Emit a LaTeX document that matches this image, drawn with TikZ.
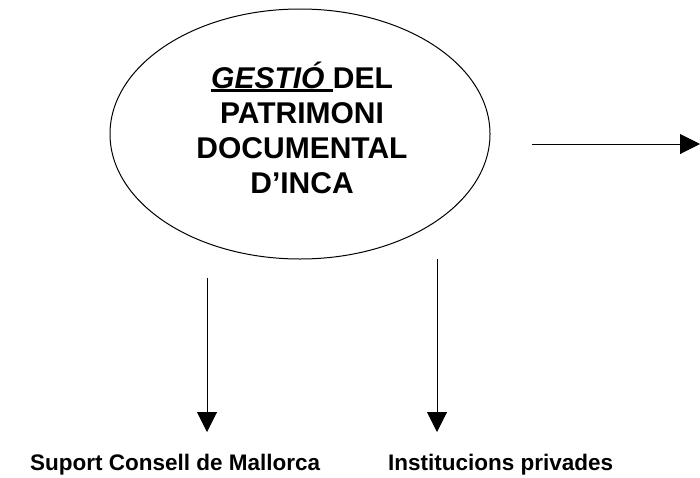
\documentclass[tikz,border=0pt]{standalone}
\usepackage{fontspec}
\setmainfont{Liberation Sans}
\usetikzlibrary{shapes.geometric,arrows.meta}
\newcommand\myul[1]{\setbox0\hbox{#1}\rlap{\rule[-3.5pt]{\wd0}{2.5pt}}\box0}
\tikzset{
  bubble/.style={ellipse, draw, line width=1pt, minimum width=380pt, minimum height=250pt, inner sep=0pt},
  titletext/.style={font=\bfseries\fontsize{30pt}{35pt}\selectfont, align=center, inner sep=0pt},
  lbl/.style={font=\bfseries\fontsize{22.5pt}{27pt}\selectfont, inner sep=0pt},
  arr/.style={line width=1pt, -{Triangle[length=20pt,width=20pt]}}
}
\begin{document}
\begin{tikzpicture}[x=1pt,y=-1pt]
\useasboundingbox (0,0) rectangle (700,477);
\node[bubble] (gestio) at (300,134) {};
\node[titletext, anchor=base] (title) at (302,193)
  {\myul{\textit{GESTIÓ} }DEL\\PATRIMONI\\DOCUMENTAL\\D’INCA};
\node[lbl, anchor=base west] (suport) at (30,470) {Suport Consell de Mallorca};
\node[lbl, anchor=base west] (instit) at (388,470) {Institucions privades};
\coordinate (r1) at (532,144);
\coordinate (r2) at (700,144);
\coordinate (d1) at (207,278);
\coordinate (d2) at (437,259);
\coordinate (t1) at (207,432);
\coordinate (t2) at (437,432);
\draw[arr] (r1) -- (r2);
\draw[arr] (d1) -- (t1);
\draw[arr] (d2) -- (t2);
\end{tikzpicture}
\end{document}
